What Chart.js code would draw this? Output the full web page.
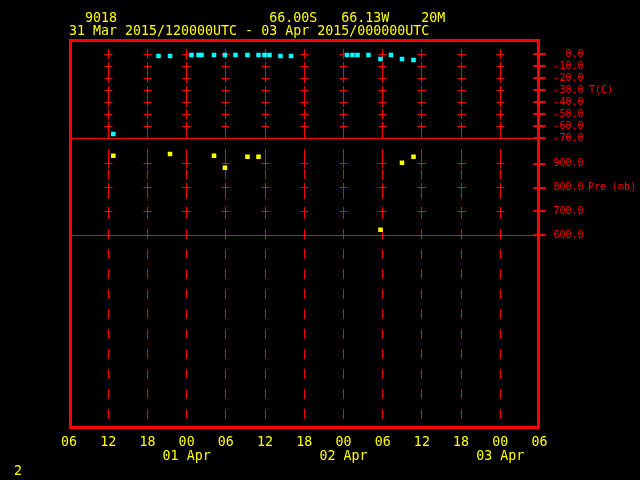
<!DOCTYPE html>
<html>
<head>
<meta charset="utf-8">
<script src="https://cdn.jsdelivr.net/npm/chart.js"></script>
<style>
  html, body { margin: 0; padding: 0; background: #000; }
  canvas { display: block; }
</style>
</head>
<body>
<canvas id="chart" width="640" height="480"></canvas>
<script>
// hours after 31 Mar 2015 06 UTC
const tempHours = [6.78, 13.70, 15.46, 18.75, 19.82, 20.28, 22.19, 23.87, 25.48, 27.31, 29.00, 29.92,
                   30.68, 32.36, 33.97, 42.54, 43.38, 44.15, 45.83, 47.67, 49.27, 50.96, 52.72];
const tempValues = [-66.4, -1.4, -1.4, -0.6, -0.6, -0.6, -0.6, -0.6, -0.6, -0.6, -0.6, -0.6,
                    -0.6, -1.4, -1.4, -0.6, -0.6, -0.6, -0.6, -3.9, -0.6, -3.9, -4.8];
const presHours = [6.78, 15.46, 22.19, 23.87, 27.31, 29.00, 47.67, 50.96, 52.72];
const presValues = [933, 941, 933, 883, 929, 929, 623, 904, 929];

const hourLabels = ['06', '12', '18', '00', '06', '12', '18', '00', '06', '12', '18', '00', '06'];
const dayLabels = ['', '', '', '01 Apr', '', '', '', '02 Apr', '', '', '', '03 Apr', ''];
const tempTicks = [0, -10, -20, -30, -40, -50, -60, -70];
const presTicks = [900, 800, 700, 600];

const headerLines = [
  '  9018                   66.00S   66.13W    20M',
  '31 Mar 2015/120000UTC - 03 Apr 2015/000000UTC'
];

const RED = '#ff0000', YELLOW = '#ffff00', CYAN = '#00ffff';
const MONO = '"DejaVu Sans Mono", "Liberation Mono", monospace';

const pts = (xs, ys) => xs.map((x, i) => ({ x: x, y: ys[i] }));
const snap = v => Math.floor(v) + 0.5;

// grid, crosses, frame and right hand axis text
const framePlugin = {
  id: 'frame',
  beforeDatasetsDraw(chart) {
    const { ctx, chartArea: a, scales } = chart;
    const xs = scales.x, yT = scales.yT, yP = scales.yP;
    const cols = xs.ticks.slice(1, -1).map(t => snap(xs.getPixelForValue(t.value)));
    const crossRows = tempTicks.slice(0, -1).map(v => snap(yT.getPixelForValue(v)))
      .concat(presTicks.slice(0, -1).map(v => snap(yP.getPixelForValue(v))));
    const right = a.right - 1;

    ctx.save();
    ctx.strokeStyle = RED;
    ctx.lineWidth = 1;

    // dashed verticals
    ctx.setLineDash([10, 10]);
    ctx.lineDashOffset = 10;
    cols.forEach(x => {
      ctx.beginPath();
      ctx.moveTo(x, a.top - 1.5);
      ctx.lineTo(x, a.bottom);
      ctx.stroke();
    });
    ctx.setLineDash([]);

    // crosses
    cols.forEach(x => {
      crossRows.forEach(y => {
        ctx.beginPath();
        ctx.moveTo(x - 4, y); ctx.lineTo(x + 4, y);
        ctx.moveTo(x, y - 4.5); ctx.lineTo(x, y + 4.5);
        ctx.stroke();
      });
    });

    // panel bottoms
    [snap(yT.getPixelForValue(tempTicks[tempTicks.length - 1])),
     snap(yP.getPixelForValue(presTicks[presTicks.length - 1]))].forEach(y => {
      ctx.beginPath();
      ctx.moveTo(a.left, y); ctx.lineTo(right + 7, y);
      ctx.stroke();
    });

    // right axis ticks
    ctx.lineWidth = 2;
    const tickRows = tempTicks.map(v => Math.round(yT.getPixelForValue(v)))
      .concat(presTicks.map(v => Math.round(yP.getPixelForValue(v))));
    tickRows.forEach(y => {
      ctx.beginPath();
      ctx.moveTo(right - 5, y); ctx.lineTo(right + 7, y);
      ctx.stroke();
    });
    ctx.restore();
  },
  afterDraw(chart) {
    const { ctx, chartArea: a, scales } = chart;
    const yT = scales.yT, yP = scales.yP;
    ctx.save();

    // frame
    ctx.strokeStyle = RED;
    ctx.lineWidth = 3;
    ctx.strokeRect(a.left + 1.5, a.top, a.right - a.left - 2.5, a.bottom - a.top - 0.5);

    // right labels
    ctx.fillStyle = RED;
    ctx.font = '10px ' + MONO;
    ctx.textBaseline = 'middle';
    ctx.textAlign = 'right';
    tempTicks.forEach(v => ctx.fillText(v.toFixed(1), 583.5, yT.getPixelForValue(v)));
    presTicks.forEach(v => ctx.fillText(v.toFixed(1), 583.5, yP.getPixelForValue(v)));
    ctx.textAlign = 'left';
    ctx.fillText('T(C)', 589, yT.getPixelForValue(-30));
    ctx.fillText('Pre (mb)', 588, yP.getPixelForValue(800));

    // header
    ctx.fillStyle = YELLOW;
    ctx.font = '13.3px ' + MONO;
    ctx.fillText(headerLines[0], 69, 18.5);
    ctx.fillText(headerLines[1], 69, 32);
    ctx.fillText('2', 14, 472);
    ctx.restore();
  }
};

new Chart(document.getElementById('chart'), {
  type: 'scatter',
  data: {
    datasets: [
      {
        label: 'T(C)',
        data: pts(tempHours, tempValues),
        yAxisID: 'yT',
        backgroundColor: CYAN,
        borderWidth: 0,
        pointStyle: 'rect',
        pointRadius: 3.2
      },
      {
        label: 'Pre (mb)',
        data: pts(presHours, presValues),
        yAxisID: 'yP',
        backgroundColor: YELLOW,
        borderWidth: 0,
        pointStyle: 'rect',
        pointRadius: 3.2
      }
    ]
  },
  plugins: [framePlugin],
  options: {
    responsive: false,
    animation: false,
    devicePixelRatio: 1,
    layout: { padding: { top: 40.5, left: 69, right: 100.5, bottom: 0 } },
    plugins: { legend: { display: false }, tooltip: { enabled: false } },
    scales: {
      x: {
        type: 'linear',
        min: 0,
        max: 72,
        afterFit: s => { s.height = 52; },
        grid: { display: false, drawTicks: false },
        border: { display: false },
        ticks: {
          stepSize: 6,
          autoSkip: false,
          maxRotation: 0,
          padding: 8,
          color: YELLOW,
          font: { family: MONO, size: 13.3, lineHeight: '14px' },
          callback: (v, i) => dayLabels[i] ? [hourLabels[i], dayLabels[i]] : hourLabels[i]
        }
      },
      yT: { type: 'linear', position: 'right', display: false, min: -311.4, max: 11.5 },
      yP: { type: 'linear', position: 'right', display: false, min: -207.3, max: 1416.1 }
    }
  }
});
</script>
</body>
</html>
